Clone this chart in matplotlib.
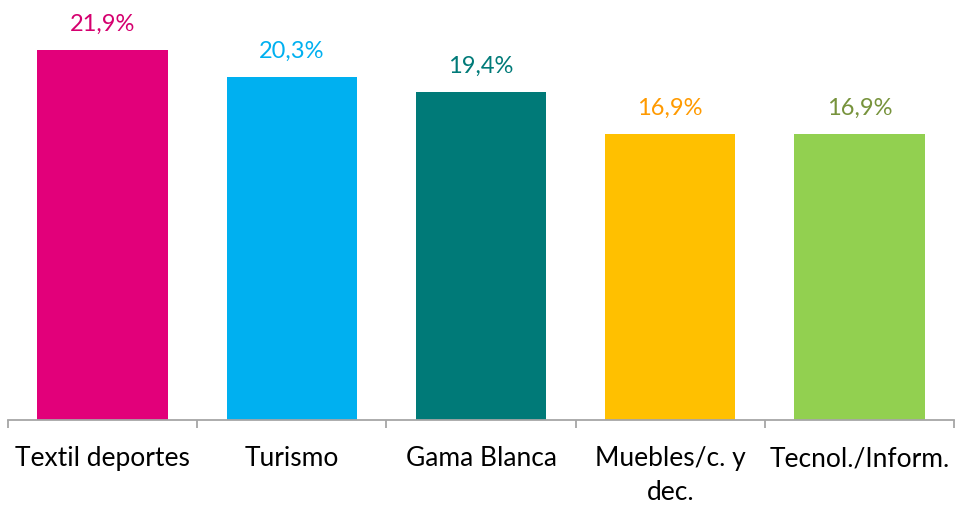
import numpy as np
import matplotlib.pyplot as plt

categories = ['Textil deportes', 'Turismo', 'Gama Blanca', 'Muebles/c. y\ndec.', 'Tecnol./Inform.']
values = [21.9, 20.3, 19.4, 16.9, 16.9]
labels = ['21,9%', '20,3%', '19,4%', '16,9%', '16,9%']
bar_colors = ['#E2007A', '#00B0F0', '#007A78', '#FFC000', '#92D050']
label_colors = ['#D5006F', '#00B0F0', '#007A78', '#FF9A00', '#77933C']

plt.rcParams['font.family'] = ['Lato', 'DejaVu Sans']

fig = plt.figure(figsize=(9.55, 5.05), dpi=100)
ax = fig.add_axes([8 / 955, 1 - 420 / 505, 946 / 955, 420 / 505])

x = np.arange(len(categories))
ax.bar(x, values, width=0.69, color=bar_colors, zorder=2)
for xi, v, lab, c in zip(x, values, labels, label_colors):
    ax.annotate(lab, (xi, v), xytext=(0, 11), textcoords='offset points',
                ha='center', va='bottom', fontsize=17, color=c)

ax.set_xlim(-0.5, len(categories) - 0.5)
ax.set_ylim(0, 24.85)
ax.set_yticks([])
for s in ['top', 'left', 'right']:
    ax.spines[s].set_visible(False)
ax.spines['bottom'].set_color('#A6A6A6')
ax.spines['bottom'].set_linewidth(1.3)

ax.set_xticks(x)
ax.set_xticklabels(categories, fontsize=19, color='black', linespacing=1.45)
ax.tick_params(axis='x', which='major', length=0, pad=19)
ax.set_xticks(np.arange(-0.5, len(categories)), minor=True)
ax.tick_params(axis='x', which='minor', length=6, width=1.3, color='#A6A6A6')

fig.savefig('out.png', dpi=100)
